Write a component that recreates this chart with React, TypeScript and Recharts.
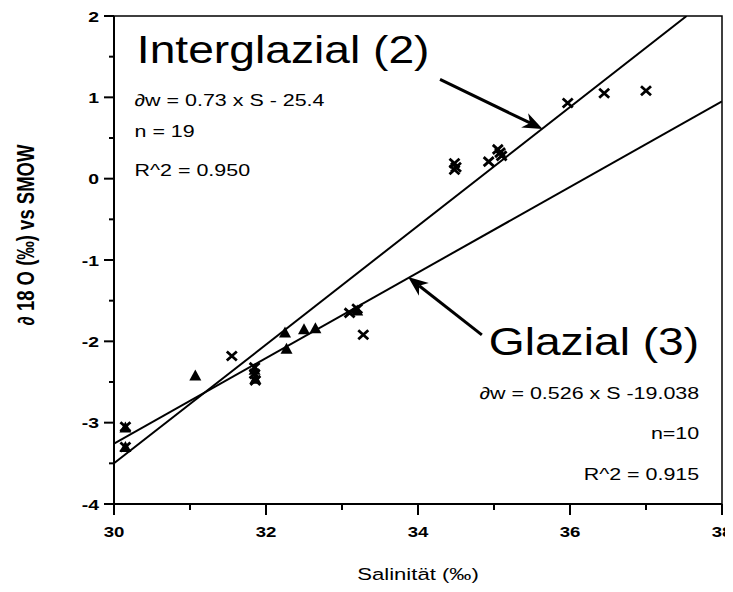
import React from 'react';
import {
  ComposedChart,
  Scatter,
  XAxis,
  YAxis,
  ReferenceArea,
  ReferenceDot,
  ReferenceLine,
} from 'recharts';

// Interglazial (2) samples, plotted as crosses
const interSalinity = [35.97, 36.45, 37.0, 34.48, 34.5, 34.48, 34.93, 35.05, 35.08, 35.1, 31.55, 31.85, 31.85, 31.86, 33.1, 33.2, 33.28, 30.15, 30.15];
const interDelta = [0.93, 1.05, 1.08, 0.19, 0.14, 0.11, 0.21, 0.36, 0.32, 0.28, -2.18, -2.32, -2.4, -2.48, -1.65, -1.6, -1.92, -3.05, -3.3];

// Glazial (3) samples, plotted as triangles
const glazSalinity = [31.07, 31.85, 31.86, 32.25, 32.27, 32.5, 32.65, 33.2, 30.15, 30.15];
const glazDelta = [-2.42, -2.35, -2.46, -1.89, -2.09, -1.85, -1.84, -1.62, -3.06, -3.3];

// regression fits as printed on the chart
const interFit = { slope: 0.73, intercept: -25.4 };
const glazFit = { slope: 0.526, intercept: -19.038 };

const xTicks = [30, 31, 32, 33, 34, 35, 36, 37, 38];
const yTicks = [-4, -3.5, -3, -2.5, -2, -1.5, -1, -0.5, 0, 0.5, 1, 1.5, 2];

const X_MIN = 30;
const X_MAX = 38;
const Y_MIN = -4;
const Y_MAX = 2;

const FONT = '"Liberation Sans", Arial, Helvetica, sans-serif';

const interData = interSalinity.map((s, i) => ({ s, d: interDelta[i] }));
const glazData = glazSalinity.map((s, i) => ({ s, d: glazDelta[i] }));

const fitLine = (fit: { slope: number; intercept: number }) => {
  const end = Math.min(X_MAX, (Y_MAX - fit.intercept) / fit.slope);
  return [
    { s: X_MIN, d: fit.slope * X_MIN + fit.intercept },
    { s: end, d: fit.slope * end + fit.intercept },
  ];
};

// text stretched a little sideways, like the scanned original
const SText = ({ x, y, anchor = 'start', size, weight = 400, sx = 1.3, children }: any) => (
  <text
    transform={`translate(${x},${y}) scale(${sx},1)`}
    textAnchor={anchor}
    fontSize={size}
    fontWeight={weight}
    fontFamily={FONT}
    fill="#000"
  >
    {children}
  </text>
);

const XTick = ({ x, y, payload }: any) => {
  const v = payload.value;
  const major = v % 2 === 0;
  return (
    <g>
      <line x1={x} x2={x} y1={y} y2={y + (major ? 11 : 6)} stroke="#000" strokeWidth={2} />
      {major && (
        <SText x={x} y={y + 33} anchor="middle" size={15.5} weight={700} sx={1.2}>
          {v}
        </SText>
      )}
    </g>
  );
};

const YTick = ({ x, y, payload }: any) => {
  const v = payload.value;
  const major = Number.isInteger(v);
  return (
    <g>
      <line x1={x} x2={x - (major ? 10 : 5)} y1={y} y2={y} stroke="#000" strokeWidth={2} />
      {major && (
        <SText x={x - 15} y={y + 5.5} anchor="end" size={15.5} weight={700} sx={1.25}>
          {v}
        </SText>
      )}
    </g>
  );
};

const Cross = ({ cx, cy }: any) => (
  <path
    d={`M${cx - 5},${cy - 4.5}L${cx + 5},${cy + 4.5}M${cx + 5},${cy - 4.5}L${cx - 5},${cy + 4.5}`}
    stroke="#000"
    strokeWidth={2.8}
    fill="none"
  />
);

const Triangle = ({ cx, cy }: any) => (
  <path d={`M${cx},${cy - 6}L${cx + 6},${cy + 5}L${cx - 6},${cy + 5}Z`} fill="#000" />
);

const NoDot = () => <g />;

const Arrow = ({ x1, y1, x2, y2 }: any) => {
  const ang = Math.atan2(y2 - y1, x2 - x1);
  const len = 20;
  const half = 8;
  const bx = x2 - len * Math.cos(ang);
  const by = y2 - len * Math.sin(ang);
  const nx = -Math.sin(ang);
  const ny = Math.cos(ang);
  const notchX = x2 - len * 0.7 * Math.cos(ang);
  const notchY = y2 - len * 0.7 * Math.sin(ang);
  return (
    <g>
      <line x1={x1} y1={y1} x2={notchX} y2={notchY} stroke="#000" strokeWidth={3} />
      <path
        d={`M${x2},${y2}L${bx + nx * half},${by + ny * half}L${notchX},${notchY}L${bx - nx * half},${by - ny * half}Z`}
        fill="#000"
      />
    </g>
  );
};

const label = (text: string, size: number, anchor = 'start', sx = 1.3) => (p: any) => (
  <SText x={p.cx} y={p.cy} anchor={anchor} size={size} sx={sx}>
    {text}
  </SText>
);

export default function App() {
  return (
    <div style={{ width: 725, height: 576, overflow: 'visible' }}>
      <style>{'.recharts-wrapper svg { overflow: visible; }'}</style>
      <ComposedChart
        width={725}
        height={576}
        margin={{ top: 8, right: 11, bottom: 0, left: 0 }}
        style={{ background: '#fff', overflow: 'visible' }}
      >
        <XAxis
          type="number"
          dataKey="s"
          domain={[X_MIN, X_MAX]}
          ticks={xTicks}
          allowDataOverflow
          height={80}
          tickSize={0}
          tickMargin={0}
          tickLine={false}
          axisLine={{ stroke: '#000', strokeWidth: 2 }}
          tick={<XTick />}
          interval={0}
          label={() => (
            <SText x={410} y={572} anchor="middle" size={17}>
              Salinität (‰)
            </SText>
          )}
        />
        <YAxis
          type="number"
          dataKey="d"
          domain={[Y_MIN, Y_MAX]}
          ticks={yTicks}
          allowDataOverflow
          width={106}
          tickSize={0}
          tickMargin={0}
          tickLine={false}
          axisLine={{ stroke: '#000', strokeWidth: 2 }}
          tick={<YTick />}
          interval={0}
          label={() => (
            <text
              transform="translate(26,227) rotate(-90) scale(1,1.25)"
              textAnchor="middle"
              fontSize={18.5}
              fontWeight={700}
              fontFamily={FONT}
              fill="#000"
            >
              ∂ 18 O (‰) vs SMOW
            </text>
          )}
        />
        <ReferenceArea x1={X_MIN} x2={X_MAX} y1={Y_MIN} y2={Y_MAX} fill="none" stroke="#000" strokeWidth={1.5} />

        <Scatter
          name="Interglazial fit"
          data={fitLine(interFit)}
          fill="#000"
          line={{ stroke: '#000', strokeWidth: 2 }}
          shape={<NoDot />}
          isAnimationActive={false}
        />
        <Scatter
          name="Glazial fit"
          data={fitLine(glazFit)}
          fill="#000"
          line={{ stroke: '#000', strokeWidth: 2 }}
          shape={<NoDot />}
          isAnimationActive={false}
        />
        <Scatter name="Interglazial" data={interData} fill="#000" shape={<Cross />} isAnimationActive={false} />
        <Scatter name="Glazial" data={glazData} fill="#000" shape={<Triangle />} isAnimationActive={false} />

        <ReferenceLine segment={[{ x: 34.29, y: 1.22 }, { x: 35.64, y: 0.61 }]} shape={(p: any) => <Arrow {...p} />} />
        <ReferenceLine segment={[{ x: 34.84, y: -1.92 }, { x: 33.87, y: -1.21 }]} shape={(p: any) => <Arrow {...p} />} />

        <ReferenceDot x={30.3} y={1.418} r={0} shape={label('Interglazial (2)', 39.5, 'start', 1.17)} />
        <ReferenceDot x={30.27} y={0.893} r={0} shape={label('∂w = 0.73 x S - 25.4', 16.5)} />
        <ReferenceDot x={30.27} y={0.508} r={0} shape={label('n = 19', 16.5)} />
        <ReferenceDot x={30.27} y={0.032} r={0} shape={label('R^2 = 0.950', 16.5)} />

        <ReferenceDot x={37.7} y={-2.17} r={0} shape={label('Glazial (3)', 39.5, 'end', 1.17)} />
        <ReferenceDot x={37.7} y={-2.711} r={0} shape={label('∂w = 0.526 x S -19.038', 16.5, 'end')} />
        <ReferenceDot x={37.7} y={-3.203} r={0} shape={label('n=10', 16.5, 'end')} />
        <ReferenceDot x={37.7} y={-3.707} r={0} shape={label('R^2 = 0.915', 16.5, 'end')} />
      </ComposedChart>
    </div>
  );
}
